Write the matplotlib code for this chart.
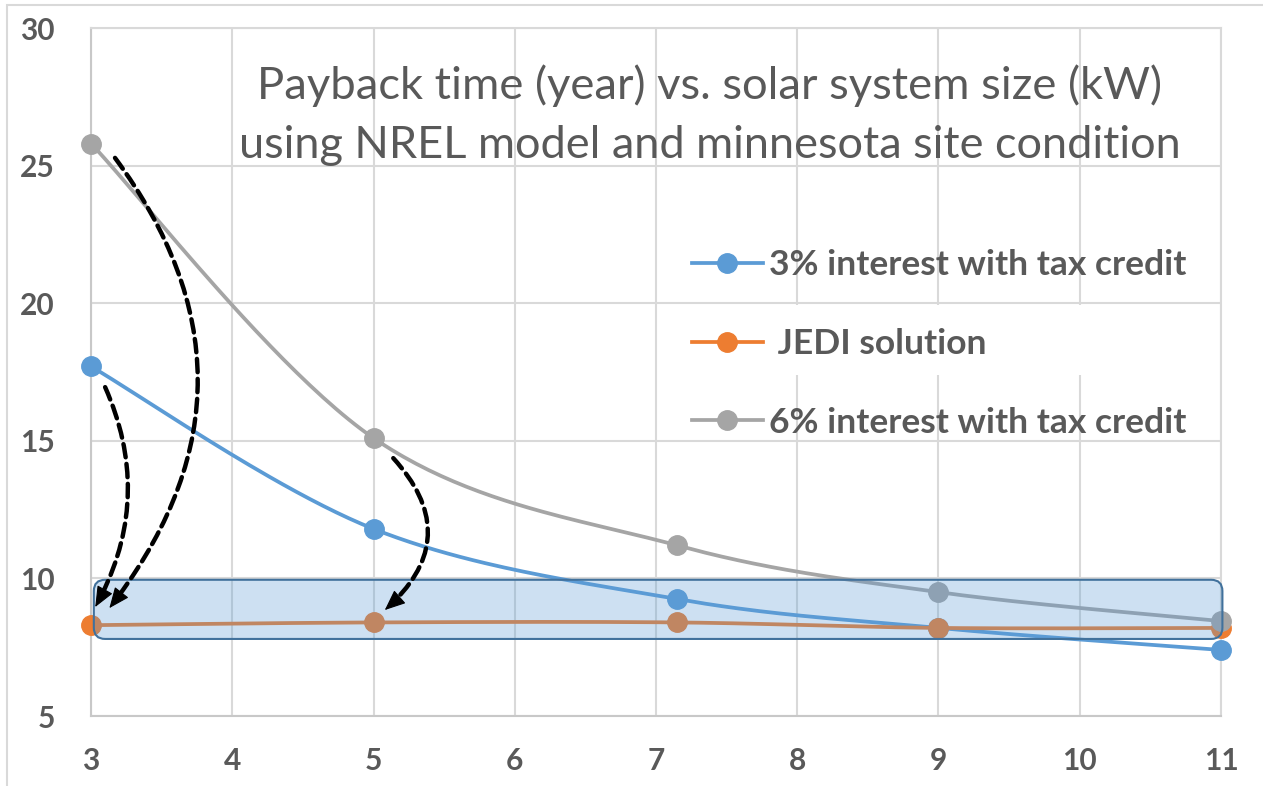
import numpy as np
import matplotlib
matplotlib.use("Agg")
import matplotlib.pyplot as plt
from matplotlib.patches import FancyBboxPatch, Rectangle
from matplotlib.lines import Line2D

plt.rcParams['font.family'] = ['Lato', 'DejaVu Sans']

# ---- data ----
sizes = [3, 5, 7.15, 9, 11]
interest3 = [17.7, 11.8, 9.25, 8.2, 7.4]
jedi = [8.3, 8.4, 8.4, 8.2, 8.2]
interest6 = [25.8, 15.1, 11.2, 9.5, 8.45]
series_labels = ["3% interest with tax credit", " JEDI solution", "6% interest with tax credit"]
x_ticks = [3, 4, 5, 6, 7, 8, 9, 10, 11]
y_ticks = [5, 10, 15, 20, 25, 30]
title_lines = ["Payback time (year) vs. solar system size (kW)",
               "using NREL model and minnesota site condition"]
band = (3.02, 7.8, 11.01, 9.95)  # x0, y0, x1, y1 of highlighted band
arrows = [((3.17, 25.28), (3.13, 8.92), -0.38),
          ((3.10, 16.95), (3.03, 8.96), -0.25),
          ((5.14, 14.37), (5.08, 8.85), -0.51)]

colors = ['#5B9BD5', '#ED7D31', '#A5A5A5']
text_gray = '#595959'
grid_gray = '#D9D9D9'


def smooth(xs, ys, n=50):
    P = np.column_stack([xs, ys]).astype(float)
    pts = np.vstack([P[0], P, P[-1]])
    out = []
    t = np.linspace(0, 1, n)[:, None]
    for i in range(len(P) - 1):
        p0, p1, p2, p3 = pts[i], pts[i + 1], pts[i + 2], pts[i + 3]
        c1 = p1 + (p2 - p0) / 6
        c2 = p2 - (p3 - p1) / 6
        seg = (1 - t) ** 3 * p1 + 3 * (1 - t) ** 2 * t * c1 + 3 * (1 - t) * t ** 2 * c2 + t ** 3 * p2
        out.append(seg if i == 0 else seg[1:])
    return np.vstack(out)


W, H = 1263, 786
fig = plt.figure(figsize=(W / 100, H / 100), dpi=100)
fig.patch.set_facecolor('white')
ax = fig.add_axes([91 / W, 1 - 716 / H, 1130 / W, 688 / H])

# outer light border
fig.add_artist(Rectangle((7 / W, -0.1), 1.2, 1 - 5 / H + 0.1, transform=fig.transFigure,
                         fill=False, edgecolor='#D9D9D9', lw=1.5))

ax.set_xlim(3, 11)
ax.set_ylim(5, 30)
ax.set_xticks(x_ticks)
ax.set_yticks(y_ticks)
ax.set_axisbelow(True)
ax.grid(True, color=grid_gray, lw=1.5)
for s in ax.spines.values():
    s.set_color(grid_gray)
    s.set_linewidth(1.5)
ax.spines['left'].set_color('#C8C8C8')
ax.spines['bottom'].set_color('#C8C8C8')
ax.tick_params(length=0, labelsize=21.5, labelcolor=text_gray)
ax.tick_params(axis='y', pad=26)
ax.tick_params(axis='x', pad=22)
for lab in ax.get_xticklabels() + ax.get_yticklabels():
    lab.set_fontweight('bold')

# white patch behind the middle legend entry
ax.add_patch(Rectangle((700 / W, 1 - 375 / H), 515 / W, 70 / H, transform=fig.transFigure,
                       facecolor='white', edgecolor='none', zorder=1))

handles = []
for ys, c, lab in zip([interest3, jedi, interest6], colors, series_labels):
    sm = smooth(sizes, ys)
    ax.plot(sm[:, 0], sm[:, 1], color=c, lw=2.7, zorder=3, solid_capstyle='round', clip_on=False)
    ax.plot(sizes, ys, 'o', color=c, ms=14, zorder=3, clip_on=False)
    handles.append(Line2D([0], [0], color=c, lw=2.7, marker='o', ms=14, label=lab))

# highlighted band
fig.canvas.draw()
bb = ax.get_window_extent()
px_per_x = bb.width / 8
px_per_y = bb.height / 25
rect = FancyBboxPatch((band[0], band[1]), band[2] - band[0], band[3] - band[1],
                      boxstyle='round,pad=0,rounding_size=0.08',
                      mutation_aspect=px_per_x / px_per_y,
                      facecolor=(91 / 255, 155 / 255, 213 / 255, 0.30),
                      edgecolor='#41719C', lw=1.5, zorder=4, clip_on=False)
ax.add_patch(rect)

# dashed curved arrows: dashed shaft + solid head
head_px = 18
for start, end, rad in arrows:
    s_d = ax.transData.transform(start)
    e_d = ax.transData.transform(end)
    mid = (s_d + e_d) / 2
    dx, dy = e_d - s_d
    ctrl = mid + rad * np.array([dy, -dx])
    direc = e_d - ctrl
    direc = direc / np.hypot(*direc)
    ax.annotate('', xy=end, xytext=start,
                arrowprops=dict(arrowstyle='-',
                                connectionstyle=f'arc3,rad={rad}', linewidth=3.2,
                                linestyle=(0, (3.0, 1.5)), color='black',
                                shrinkA=0, shrinkB=head_px * 0.72 * 0.8),
                zorder=6, annotation_clip=False)
    hs = ax.transData.inverted().transform(e_d - direc * head_px * 0.6)
    ax.annotate('', xy=end, xytext=tuple(hs),
                arrowprops=dict(arrowstyle='-|>,head_length=1.3,head_width=0.55',
                                linewidth=0.8, color='black', shrinkA=0, shrinkB=0),
                zorder=6, annotation_clip=False)

# legend
leg = ax.legend(handles=handles, loc='center left',
                bbox_to_anchor=(692 / W, 1 - 344 / H), bbox_transform=fig.transFigure,
                frameon=False, prop={'weight': 'bold', 'size': 25.5},
                handlelength=2.0, handletextpad=0.18, labelspacing=1.32,
                borderpad=0, borderaxespad=0)
for t in leg.get_texts():
    t.set_color(text_gray)

# title (two lines)
targets = [906, 944]
ys_px = [99, 158]
for line, tw, yp in zip(title_lines, targets, ys_px):
    t = fig.text(710 / W, 1 - yp / H, line, ha='center', va='baseline',
                 fontsize=24, color=text_gray)
    fig.canvas.draw()
    w = t.get_window_extent().width
    t.set_fontsize(24 * tw / w)

fig.savefig('out.png', dpi=100)
